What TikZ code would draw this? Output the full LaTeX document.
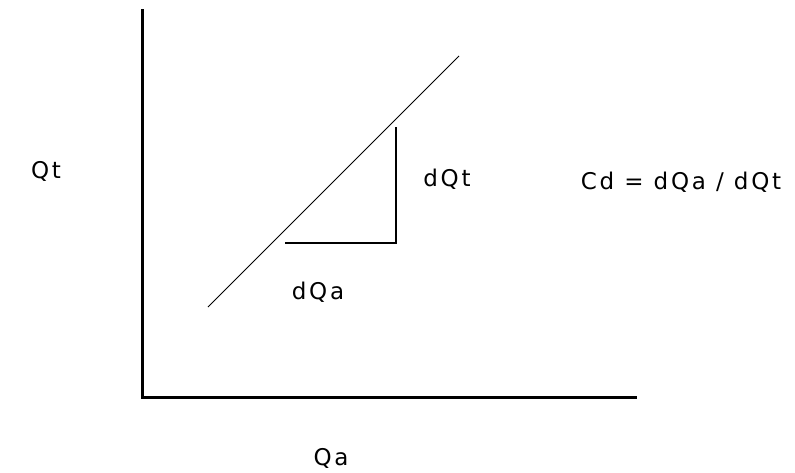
\documentclass[tikz,border=0pt]{standalone}
\usepackage{fontspec}
\setmainfont{DejaVu Sans}[LetterSpace=12]
\usepackage{tikz}
\tikzset{
  axisln/.style={line width=3pt},
  slopeln/.style={line width=1pt},
  stepln/.style={line width=2pt},
  lbl/.style={inner sep=0pt, font=\fontsize{23}{27}\selectfont}
}
\begin{document}
\begin{tikzpicture}[x=1pt, y=-1pt]
\useasboundingbox[fill=white] (0,0) rectangle (795,472);
% axes
\coordinate (top) at (142.5,9);
\coordinate (org) at (142.5,397);
\coordinate (xend) at (637,397);
\draw[axisln] (top) -- (org) -- (xend);
% slope line
\coordinate (lo) at (208,307);
\coordinate (hi) at (459,56);
\draw[slopeln] (lo) -- (hi);
% step triangle
\coordinate (s1) at (285,243);
\coordinate (s2) at (396,243);
\coordinate (s3) at (396,127);
\draw[stepln] (s1) -- (s2) -- (s3);
% labels
\node[lbl] (qt) at (46,171) {Qt};
\node[lbl] (qa) at (331,458) {Qa};
\node[lbl] (dqa) at (318,292) {dQa};
\node[lbl] (dqt) at (447,179) {dQt};
\node[lbl] (cd) at (681,182) {Cd = dQa / dQt};
\end{tikzpicture}
\end{document}
